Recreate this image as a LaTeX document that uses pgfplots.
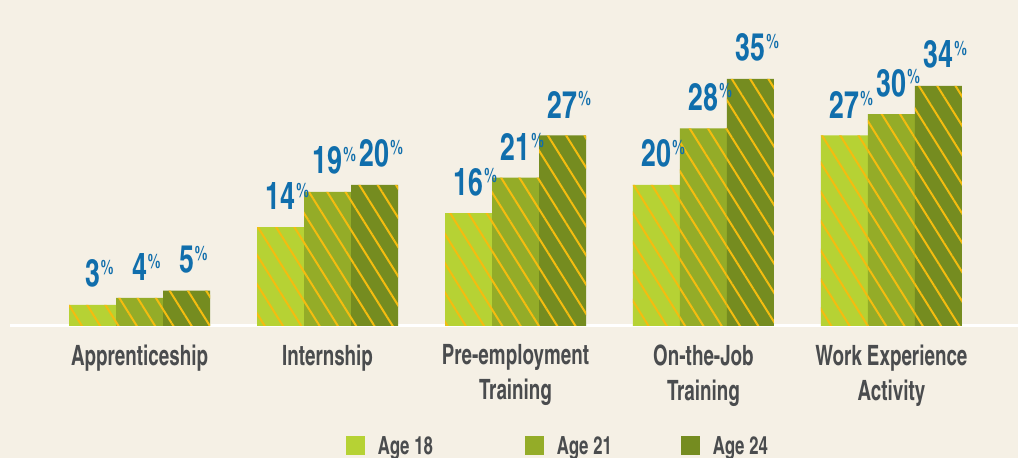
\documentclass[border=0pt]{standalone}
\usepackage{pgfplots}
\pgfplotsset{compat=1.18}
\usepackage{fontspec}
\usetikzlibrary{patterns.meta}
\newfontfamily\cond[FakeStretch=0.82]{texgyreheroscn-bold.otf}
\newfontfamily\numfont[FakeStretch=0.86]{texgyreheroscn-bold.otf}
\definecolor{bg}{RGB}{245,240,229}
\definecolor{c18}{RGB}{182,210,52}
\definecolor{c21}{RGB}{148,172,40}
\definecolor{c24}{RGB}{117,140,32}
\definecolor{hatch}{RGB}{244,188,16}
\definecolor{numblue}{RGB}{16,110,172}
\definecolor{lab}{RGB}{74,76,78}
\begin{document}
\begin{tikzpicture}
\fill[bg] (0,0) rectangle (1018pt,458pt);
\useasboundingbox (0,0) rectangle (1018pt,458pt);
\begin{axis}[
  at={(10pt,132pt)}, anchor=south west,
  scale only axis, width=1008pt, height=319.2pt,
  xmin=-0.689, xmax=4.673, ymin=0, ymax=45.2,
  axis y line=none, axis x line*=bottom,
  x axis line style={white, line width=3pt, -},
  xtick={0,1,2,3,4},
  xticklabels={Apprenticeship, Internship, Pre-employment\\Training, On-the-Job\\Training, Work Experience\\Activity},
  major tick length=0pt,
  xticklabel style={font=\cond\fontsize{28}{35}\selectfont, text=lab, align=center, yshift=-15pt},
  ybar=0pt, bar width=47pt,
  clip=false,
  /pgf/number format/assume math mode=true,
  nodes near coords={\pgfmathprintnumber{\pgfplotspointmeta}\rlap{\kern1pt\raisebox{12.5pt}{\fontsize{20}{20}\selectfont\%}}},
  every node near coord/.append style={font=\numfont\fontsize{38}{38}\selectfont, text=numblue, anchor=south, inner sep=0pt, yshift=17pt},
  legend columns=3,
  legend style={at={(0.3333,-0.376)}, anchor=west, draw=none, fill=none, inner sep=0pt, outer sep=0pt,
    font=\cond\fontsize{25}{25}\selectfont, text=lab,
    nodes={inner sep=0pt},
    /tikz/every even column/.style={column sep=0pt}},
  legend cell align=left,
]
\addplot[fill=c18, draw=none, postaction={pattern={Lines[angle=-58, distance=15.5pt, line width=2pt]}, pattern color=hatch},
  legend image code/.code={\pgfpathrectangle{\pgfpoint{0pt}{-9pt}}{\pgfpoint{19pt}{19pt}}\pgfsetfillcolor{c18}\pgfusepath{fill}}]
  coordinates {(0,3) (1,14) (2,16) (3,20) (4,27)};
\addlegendentry{\makebox[160pt][l]{\hspace*{13pt}Age 18}}
\addplot[fill=c21, draw=none, postaction={pattern={Lines[angle=-58, distance=15.5pt, line width=2pt]}, pattern color=hatch},
  legend image code/.code={\pgfpathrectangle{\pgfpoint{0pt}{-9pt}}{\pgfpoint{19pt}{19pt}}\pgfsetfillcolor{c21}\pgfusepath{fill}}]
  coordinates {(0,4) (1,19) (2,21) (3,28) (4,30)};
\addlegendentry{\makebox[137pt][l]{\hspace*{13pt}Age 21}}
\addplot[fill=c24, draw=none, postaction={pattern={Lines[angle=-58, distance=15.5pt, line width=2pt]}, pattern color=hatch},
  legend image code/.code={\pgfpathrectangle{\pgfpoint{0pt}{-9pt}}{\pgfpoint{19pt}{19pt}}\pgfsetfillcolor{c24}\pgfusepath{fill}}]
  coordinates {(0,5) (1,20) (2,27) (3,35) (4,34)};
\addlegendentry{\makebox[70pt][l]{\hspace*{13pt}Age 24}}
\end{axis}
\end{tikzpicture}
\end{document}
